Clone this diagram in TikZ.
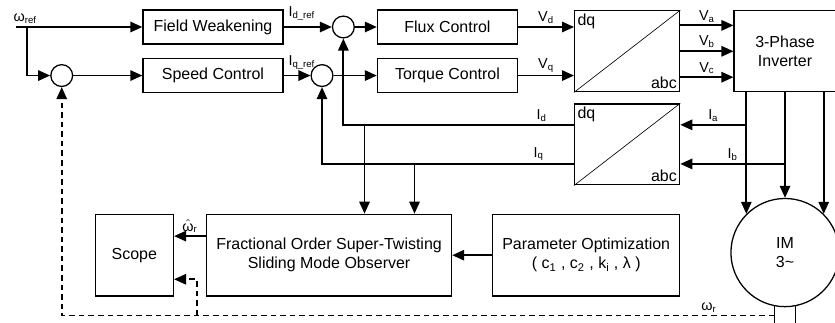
\documentclass[tikz,border=0pt]{standalone}
\usepackage{fontspec}
\setmainfont{Liberation Sans}
\usepackage{amsmath}
\usepackage{tikz}
\usetikzlibrary{arrows.meta,positioning,calc}

\begin{document}
\begin{tikzpicture}[
  box/.style={rectangle,draw,thick,minimum width=3.08cm,minimum height=0.75cm,
              font=\normalsize,align=center,inner sep=2pt},
  conv/.style={box,minimum width=2.31cm,minimum height=1.78cm},
  junction/.style={circle,draw,thick,minimum size=0.48cm,inner sep=0pt},
  motorc/.style={circle,draw,thick,minimum size=2.38cm,align=center,inner sep=0pt},
  arrow/.style={-{Triangle[length=7.5pt,width=6.5pt]},line width=1.1pt},
  feedback/.style={arrow,dash pattern=on 3.5pt off 2.5pt},
  lbl/.style={font=\small,inner sep=1.5pt},
  corner/.style={font=\normalsize,inner sep=2pt},
  node distance=0.5cm
]
\useasboundingbox (-4.686,0.594) rectangle (13.684,-6.49);

%% Reference side
\node[box] (fw) {Field Weakening};
\node[box,below=0.29cm of fw]        (sc)     {Speed Control};
\coordinate[left=2.77cm of fw]       (wref);
\coordinate (wbr) at ($(wref)+(0.24,0)$);
\node[junction,left=1.52cm of sc]    (s1)     {};
\node[junction,right=1.06cm of fw]   (s2)     {};
\node[junction,right=0.59cm of sc]   (s3)     {};
\node[box,right=2.05cm of fw]        (flux)   {Flux Control};
\node[box,below=0.29cm of flux]      (torque) {Torque Control};

%% Converters and drive
\coordinate (mid) at ($(flux.east)!0.5!(torque.east)$);
\node[conv,right=1.23cm of mid]      (dq1)    {};
\node[conv,right=1.17cm of dq1,minimum width=2.24cm] (inv) {3-Phase\\Inverter};
\node[conv,below=0.24cm of dq1]      (dq2)    {};
\node[motorc,below=2.32cm of inv]    (motor)  {IM\\3\textasciitilde};
\draw[thin] (dq1.south west) -- (dq1.north east);
\draw[thin] (dq2.south west) -- (dq2.north east);
\node[corner,below right] (dq1in)  at (dq1.north west) {dq};
\node[corner,above left]  (dq1out) at (dq1.south east) {abc};
\node[corner,below right] (dq2in)  at (dq2.north west) {dq};
\node[corner,above left]  (dq2out) at (dq2.south east) {abc};

%% Observer
\node[box,below=0.62cm of dq2.south east,anchor=north east,
      minimum width=4.11cm,minimum height=1.8cm] (param)
      {Parameter Optimization\\( c\textsubscript{1} , c\textsubscript{2} , k\textsubscript{i} , λ )};
\node[box,left=0.88cm of param,minimum width=5.39cm,minimum height=1.8cm] (obs)
      {Fractional Order Super-Twisting\\Sliding Mode Observer};
\node[box,left=0.7cm of obs,minimum width=1.72cm,minimum height=1.8cm] (scope) {Scope};

%% Arrows
\draw[arrow] (wref) -- node[lbl,above,pos=0.07]{ω\textsubscript{ref}} (fw);
\draw[arrow] (wbr) |- (s1);
\draw[arrow] (s1) -- (sc);
\draw[arrow] (fw) -- node[lbl,above right,pos=0,xshift=1pt,yshift=2pt]{I\textsubscript{d\_ref}} (s2);
\draw[arrow] (s2) -- (flux);
\draw[arrow] (sc) -- node[lbl,above right,pos=0,xshift=1pt,yshift=2pt]{I\textsubscript{q\_ref}} (s3);
\draw[arrow] (s3) -- (torque);
\draw[arrow] (flux) -- node[lbl,above]{V\textsubscript{d}} (flux -| dq1.west);
\draw[arrow] (torque) -- node[lbl,above]{V\textsubscript{q}} (torque -| dq1.west);

\coordinate (va) at ($(dq1.east)+(0,0.57)$);
\coordinate (vb) at (dq1.east);
\coordinate (vc) at ($(dq1.east)+(0,-0.57)$);
\draw[arrow] (va) -- node[lbl,above]{V\textsubscript{a}} (va -| inv.west);
\draw[arrow] (vb) -- node[lbl,above]{V\textsubscript{b}} (vb -| inv.west);
\draw[arrow] (vc) -- node[lbl,above]{V\textsubscript{c}} (vc -| inv.west);

\draw[arrow] (inv.south -| motor.135) -- (motor.135);
\draw[arrow] (inv) -- (motor);
\draw[arrow] (inv.south -| motor.45) -- (motor.45);

\coordinate (ia) at ($(dq2.east)+(0,0.43)$);
\coordinate (ib) at ($(dq2.east)+(0,-0.43)$);
\draw[arrow] (ia -| motor.135) -- node[lbl,above]{I\textsubscript{a}} (ia);
\draw[arrow] (ib -| motor.north) -- node[lbl,above]{I\textsubscript{b}} (ib);

\coordinate (id) at ($(dq2.west)+(0,0.43)$);
\coordinate (iq) at ($(dq2.west)+(0,-0.43)$);
\draw[arrow] (id) -| node[lbl,above,pos=0.07]{I\textsubscript{d}} (s2);
\draw[arrow] (iq) -| node[lbl,above,pos=0.07]{I\textsubscript{q}} (s3);

\coordinate (o1) at ($(obs.north)+(0.78,0)$);
\coordinate (o2) at ($(obs.north)+(1.88,0)$);
\draw[arrow] (o1 |- id) -- (o1);
\draw[arrow] (o2 |- iq) -- (o2);

\coordinate (wh) at ($(obs.west)+(0,0.42)$);
\draw[arrow] (wh) -- node[lbl,above]{$\hat{\text{ω}}$\textsubscript{r}} (wh -| scope.east);
\draw[arrow] (param) -- (obs);

%% Shaft and speed feedback
\coordinate (sh1) at ($(motor.south)+(-0.23,0.02)$);
\coordinate (sh2) at ($(motor.south)+(0.23,0.02)$);
\draw[thick] (sh1) -- ++(0,-0.45);
\draw[thick] (sh2) -- ++(0,-0.45);
\coordinate (wr) at ($(sh1)+(0,-0.2)$);
\draw[feedback] (wr) -| node[lbl,above,pos=0.046]{ω\textsubscript{r}} (s1);
\coordinate (wb) at ($(scope.east)+(0.5,-0.53)$);
\draw[feedback] (wb |- wr) -- (wb) -- (wb -| scope.east);

\end{tikzpicture}
\end{document}
